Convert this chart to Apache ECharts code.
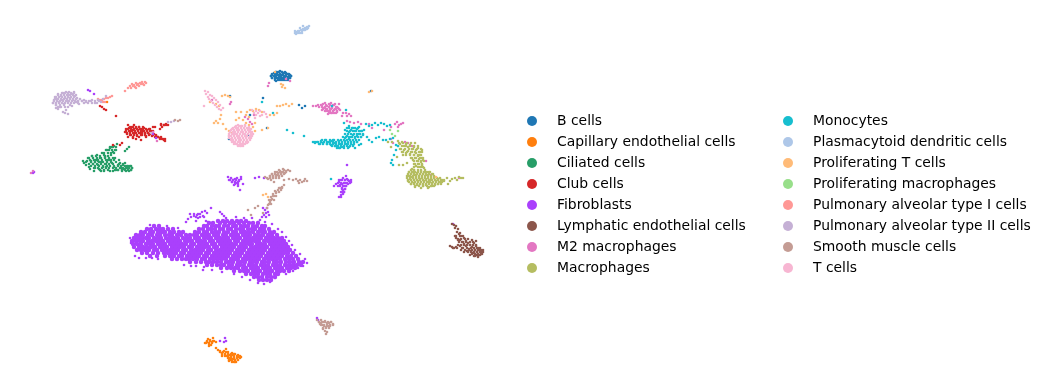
<!DOCTYPE html>
<html><head><meta charset="utf-8">
<style>html,body{margin:0;padding:0;background:#fff}#c{width:1046px;height:389px}</style>
<script src="https://cdn.jsdelivr.net/npm/echarts@6/dist/echarts.min.js"></script>
</head><body><div id="c"></div>
<script>
const categories=["B cells","Capillary endothelial cells","Ciliated cells","Club cells","Fibroblasts","Lymphatic endothelial cells","M2 macrophages","Macrophages","Monocytes","Plasmacytoid dendritic cells","Proliferating T cells","Proliferating macrophages","Pulmonary alveolar type I cells","Pulmonary alveolar type II cells","Smooth muscle cells","T cells"];
const colors=["#1f77b4","#ff7f0e","#279e68","#d62728","#aa40fc","#8c564b","#e377c2","#b5bd61","#17becf","#aec7e8","#ffbb78","#98df8a","#ff9896","#c5b0d5","#c49c94","#f7b6d2"];

const bCells=[[272,75],[274,73],[276,72],[278,72],[280,71],[282,72],[284,73],[286,73],[288,74],[290,75],[272,78],[274,76],[276,75],[278,75],[280,74],[282,75],[284,76],[286,76],[288,77],[290,78],[275,79],[277,78],[279,78],[281,78],[283,78],[285,79],[287,79],[276,81],[280,80],[284,80],[288,80],[271,76],[291,76],[263,98],[248,135],[299,105],[302,108],[267,128],[250,115],[230,96],[229,139],[305,106],[371,91]];
const bCellsRows=[[72,[276,279,282,285]],[74,[272,275,277,280,283,286,289]],[76,[271,274,276,279,281,284,286,289,291]],[78,[272,275,278,280,283,285,288,290]],[80,[275,278,282,286]]];
const capillary=[[205,343],[207,342],[209,344],[211,345],[208,339],[210,340],[212,342],[214,341],[216,342],[213,338],[216,348],[218,350],[220,351],[222,353],[224,351],[226,349],[228,352],[225,355],[227,356],[229,358],[231,357],[233,355],[235,354],[229,361],[231,360],[233,359],[235,360],[237,358],[239,357],[241,357],[238,355],[234,362],[236,362],[230,355],[232,353],[222,356],[209,346],[107,102]];
const capillaryRows=[[341,[207,210,213]],[343,[206,209,212]],[352,[220,223,226]],[354,[222,225,228,231,234]],[356,[225,228,231,234,237,240]],[358,[228,231,234,237,240]],[360,[229,232,235,238]],[362,[232,235]]];
const ciliated=[[84,163],[86,165],[88,158],[89,167],[91,161],[92,156],[93,164],[95,168],[96,160],[97,155],[98,165],[99,169],[100,158],[101,162],[102,153],[103,167],[104,171],[105,157],[106,164],[107,150],[108,160],[109,168],[110,148],[111,155],[112,147],[113,152],[114,146],[115,158],[116,150],[117,144],[112,163],[114,167],[116,170],[118,165],[120,163],[121,168],[122,171],[123,165],[124,169],[125,163],[126,171],[127,166],[128,168],[129,171],[130,166],[131,170],[132,168],[118,170],[113,171],[110,171],[106,167],[101,171],[94,171],[90,169],[125,151],[127,149],[129,147],[87,161],[83,161],[104,155],[98,161],[108,156],[119,160],[111,160]];
const ciliatedRows=[[147,[110,113,116]],[150,[106,109,112,115]],[153,[104,108,111,114]],[156,[92,96,100,105]],[158,[89,93,97,101,105,109,113]],[160,[90,94,98,102,106,110,114]],[162,[86,91,95,99,103,107,111,116]],[164,[89,93,97,101,105,109,113,119,123]],[166,[91,95,99,103,107,110,114,118,121,125,128,131]],[168,[94,98,102,106,113,116,120,123,126,129,132]],[170,[100,104,108,115,118,122,125,128,131]]];
const club=[[125,132],[126,129],[127,134],[128,125],[129,128],[130,131],[131,135],[132,127],[133,130],[134,125],[135,133],[136,128],[137,136],[138,130],[139,127],[140,133],[141,129],[142,135],[143,131],[144,128],[145,133],[146,136],[147,130],[148,133],[149,129],[150,134],[151,131],[152,136],[154,134],[156,136],[158,137],[160,138],[162,139],[164,140],[165,141],[160,129],[162,127],[164,125],[166,124],[168,125],[161,124],[153,127],[155,127],[133,138],[136,139],[141,140],[128,137],[100,106],[102,107],[104,109],[106,110],[116,116],[120,145],[122,143],[113,145]];
const clubRows=[[125,[161,164,166]],[127,[130,133,136,139,143]],[129,[128,131,134,137,140,143,146,150]],[131,[126,129,132,135,138,141,144,147,150,153]],[133,[127,130,133,136,139,142,145,148,151]],[135,[130,134,137,141,145,149,153,156]],[137,[133,139,146,155,158,161]],[139,[160,163,165]]];
const fibroblastRows=[
[221,[218,223,227,232,237,241,246]],
[223,[209,213,220,225,230,234,239,244,249,253,258]],
[226,[154,159,204,207,212,216,219,224,228,233,236,241,245,248,253,257,262,265]],
[229,[147,151,156,160,163,168,173,199,203,208,211,215,220,223,228,231,236,240,243,248,252,255,260,264,269]],
[232,[141,145,150,153,158,162,165,170,174,179,183,195,199,204,207,212,216,219,224,228,233,236,241,245,249,253,258,262,265,270,274]],
[235,[136,140,143,148,152,157,160,165,169,172,177,181,186,190,194,197,202,206,209,214,218,223,226,231,235,238,243,247,250,255,259,263,268,272,277]],
[238,[134,138,142,146,149,154,158,161,166,170,174,178,183,187,190,195,199,204,208,211,216,220,224,228,233,237,240,245,249,253,257,261,266,270,274,278,282]],
[241,[132,136,140,143,148,152,156,160,163,168,172,176,180,185,188,192,197,201,205,210,213,218,222,226,230,235,238,243,247,251,255,259,264,268,272,276,280,284]],
[244,[133,137,141,146,150,153,158,162,165,170,174,178,182,186,191,194,199,203,207,212,215,220,224,228,232,236,241,245,249,252,257,261,265,270,274,278,282,286]],
[247,[134,139,143,147,151,155,160,164,167,172,176,180,184,189,192,197,201,205,209,214,217,222,226,230,234,239,243,246,251,255,259,263,267,272,276,280,284,288]],
[250,[137,141,145,149,154,157,162,166,170,174,178,183,186,191,195,199,203,208,211,216,220,224,228,232,237,241,244,249,253,257,261,265,270,274,278,282,286,290]],
[253,[142,147,153,158,164,168,172,176,181,184,189,193,197,201,206,209,214,218,222,226,230,235,239,242,247,251,255,259,263,268,272,276,280,284,288,293]],
[256,[150,157,165,170,174,179,182,187,191,195,199,204,207,212,216,220,224,228,233,237,240,245,249,253,257,261,266,270,274,278,282,287,291,296]],
[259,[172,177,182,186,189,193,197,202,205,210,214,218,222,226,231,235,238,243,247,251,255,259,264,268,272,276,280,285,289,293,298]],
[262,[190,196,201,206,209,213,217,221,226,229,233,238,241,245,250,253,257,262,265,269,274,277,281,286,290,294,299,303]],
[265,[207,212,217,221,224,229,232,237,240,244,249,252,256,261,264,268,273,276,280,285,289,293,297,301]],
[268,[221,227,231,235,238,243,246,251,254,258,263,266,270,275,278,282,287,291,295]],
[271,[234,240,244,248,253,256,260,265,268,272,277,280,284,289]],
[274,[246,251,255,258,263,267,270,275,278]],
[277,[254,258,262,267,271,275]],
[280,[259,263,267,271]]
];
const fibroblastsScattered=[[130,238],[131,243],[135,256],[139,258],[146,258],[152,258],[158,259],[150,225],[167,226],[178,228],[184,265],[191,266],[196,266],[204,267],[212,270],[222,272],[203,270],[234,274],[242,277],[250,280],[258,283],[264,284],[270,282],[275,278],[286,274],[293,271],[298,268],[303,266],[307,263],[305,259],[300,254],[295,250],[292,245],[289,241],[286,237],[282,232],[278,229],[272,224],[265,222],[252,218],[244,218],[236,217],[226,218],
[188,219],[191,217],[194,216],[197,215],[200,214],[202,212],[205,211],[207,213],[198,218],[203,216],[206,221],[208,222],[196,221],[186,222],[220,212],[222,214],[224,216],[211,208],[228,177],[231,178],[233,180],[235,179],[237,178],[239,181],[241,179],[243,184],[236,183],[238,186],[232,182],[234,185],[229,180],[241,177],[240,190],[255,178],[259,177],[264,178],
[336,184],[339,182],[341,180],[343,178],[345,180],[347,179],[349,181],[351,182],[338,186],[340,185],[342,184],[344,183],[346,183],[348,184],[342,188],[344,186],[346,186],[343,190],[345,189],[342,192],[344,192],[341,195],[343,194],[339,197],[341,197],[347,165],[334,186],[346,176],
[263,208],[265,210],[267,208],[266,213],[264,215],[262,217],[268,212],[269,215],[266,217],[260,220],[258,222],[88,90],[90,91],[94,94],[33,173],[34,172],[225,338],[226,341],[224,342],[220,341],[153,134],[156,138],[317,318],[318,320],[453,224]];
const fibroblastsSmallRows=[[180,[230,233,236,239,339,342,345,348,351]],[182,[232,235,238]],[183,[338,341,344,347,350]],[184,[235,238]],[186,[340,343,346]],[189,[342,345]],[192,[341,344]],[214,[190,194,198]],[217,[196,200,204]]];
const lymphatic=[[452,224],[454,225],[456,226],[455,228],[458,229],[457,232],[459,234],[461,236],[456,238],[458,240],[455,236],[460,240],[462,242],[464,238],[466,241],[452,247],[450,246],[454,248],[456,247],[458,245],[460,246],[462,248],[464,244],[466,246],[468,243],[470,245],[472,247],[474,243],[476,246],[478,248],[469,249],[471,251],[473,253],[475,250],[477,252],[479,250],[481,252],[483,250],[474,256],[476,255],[478,257],[480,255],[482,254],[470,255],[467,251],[464,252],[461,250],[472,240],[476,241],[460,233]];
const lymphaticRows=[[236,[456,460,463]],[239,[458,461,465,468]],[242,[459,463,466,470,473]],[245,[461,464,467,470,473,476]],[248,[453,457,463,467,471,474,477,480]],[250,[465,469,472,475,478,481]],[252,[468,471,474,477,480,483]],[254,[472,475,478,481]],[256,[475,478]]];
const m2=[[313,106],[316,106],[319,107],[321,105],[323,104],[325,103],[327,106],[329,104],[331,103],[333,105],[335,104],[337,107],[324,108],[326,109],[328,111],[330,109],[332,108],[334,110],[336,109],[338,108],[340,110],[322,110],[325,111],[328,114],[331,113],[334,113],[337,112],[339,104],[343,113],[346,113],[349,114],[351,116],[347,116],[342,116],[347,121],[350,122],[354,123],[358,122],[361,124],[395,124],[397,122],[399,125],[401,124],[403,123],[398,127],[391,127],[384,130],[372,128],[369,124],[245,117],[248,119],[250,122],[252,124],[268,86],[269,83],[286,79],[290,81],[212,100],[231,102],[230,104],[391,139],[393,143],[405,142],[408,143],[412,146],[426,161],[431,175],[459,178],[33,171],[31,173],[157,141],[153,132],[254,115]];
const m2Rows=[[105,[318,322,326,330,334]],[107,[322,325,329,332,336]],[109,[323,327,331,335,339]],[111,[326,330,333,337]],[113,[329,332,336]]];
const macrophages=[[398,141],[400,144],[402,142],[404,146],[406,144],[408,147],[410,145],[412,149],[414,147],[416,150],[418,148],[420,152],[422,150],[400,149],[402,152],[404,150],[406,153],[408,151],[410,154],[412,152],[414,155],[416,153],[418,156],[420,155],[422,158],[411,158],[413,160],[415,158],[417,161],[419,159],[421,162],[423,160],[414,164],[416,166],[418,164],[420,167],[422,165],[424,168],[412,169],[414,170],[409,172],[411,174],[413,172],[415,175],[417,173],[419,176],[421,171],[423,174],[425,172],[427,175],[429,172],[431,176],[433,174],[408,176],[410,179],[412,177],[414,180],[416,178],[418,181],[420,179],[422,178],[424,181],[426,179],[428,182],[430,180],[432,183],[434,178],[436,181],[438,179],[440,182],[442,180],[408,181],[411,184],[414,183],[417,185],[420,184],[423,186],[426,185],[429,187],[432,186],[435,185],[438,184],[441,184],[444,181],[415,187],[421,188],[428,188],[450,181],[452,179],[455,178],[457,180],[459,177],[461,178],[463,178],[447,178],[448,184],[403,155],[397,157],[391,147],[388,142],[392,142],[399,165],[403,165],[407,163]];
const macrophagesRows=[[143,[399,403,407,411,415]],[146,[398,402,406,410,414,418]],[149,[401,405,409,413,417,421]],[152,[403,407,411,415,419,422]],[155,[406,410,414,418,421]],[158,[412,416,420,423]],[161,[414,418,421,424]],[164,[415,419,422]],[167,[414,418,421,423]],[170,[411,414,418,421,425]],[172,[409,412,415,418,421,424,427,430]],[174,[408,411,414,417,420,423,426,429,432]],[176,[407,410,413,416,419,422,425,428,431,434]],[178,[407,410,413,416,419,422,425,428,431,434,437,440]],[180,[408,411,414,417,420,423,426,429,432,435,438,441,444]],[182,[409,412,415,418,421,424,427,430,433,436,439,442]],[184,[411,414,417,420,423,426,429,432,435,438]],[186,[415,419,423,427,431,434]]];
const monocytes=[[313,142],[315,143],[317,142],[319,144],[321,141],[323,143],[325,140],[327,144],[329,142],[331,145],[333,140],[335,143],[337,146],[339,141],[341,144],[343,147],[345,141],[347,144],[349,147],[351,142],[353,145],[355,148],[357,142],[359,145],[361,144],[339,148],[341,147],[335,146],[331,141],[345,138],[347,136],[349,139],[351,137],[353,135],[355,138],[357,136],[359,134],[361,137],[363,135],[349,132],[351,130],[353,128],[355,131],[357,129],[359,127],[361,131],[345,130],[347,128],[349,126],[364,130],[366,124],[369,126],[372,125],[375,123],[378,125],[381,123],[384,124],[387,126],[390,125],[367,137],[369,140],[372,142],[376,138],[379,137],[383,140],[386,140],[390,139],[393,138],[396,145],[398,146],[287,130],[293,133],[304,136],[262,102],[273,113],[344,123],[346,110],[332,106],[396,150],[394,155],[392,160],[391,163],[393,165],[331,179]];
const monocytesRows=[[128,[349,352,355,358]],[131,[347,350,353,356,359,362]],[134,[345,348,351,354,357,360,363]],[137,[343,346,349,352,355,358,361]],[140,[322,326,330,334,338,341,344,347,350,353,356,359]],[142,[315,318,321,324,327,330,333,336,339,342,345,348,351,354,357]],[144,[320,323,327,330,333,336,339,342,345,348,351,354]],[146,[332,335,338,341,344,347,350,353]],[148,[337,340,344,348]]];
const plasmacytoid=[[295,33],[297,32],[299,31],[301,30],[303,29],[305,28],[307,27],[309,26],[296,34],[298,33],[300,33],[302,31],[304,30],[306,29],[308,28],[303,26],[300,28],[298,31],[305,30],[302,33],[307,29],[295,31]];
const prolifT=[[222,96],[225,95],[228,96],[230,97],[210,102],[216,104],[219,106],[236,112],[241,112],[247,112],[250,110],[253,111],[256,109],[259,110],[262,112],[246,115],[249,117],[214,123],[216,121],[218,123],[220,119],[221,115],[223,124],[226,129],[229,131],[232,133],[236,120],[239,118],[243,120],[246,123],[249,125],[253,127],[255,123],[277,106],[280,106],[283,105],[286,104],[289,106],[292,104],[282,87],[283,85],[285,88],[281,84],[277,113],[274,115],[270,115],[268,128],[369,92],[372,91],[275,72],[262,130],[255,131],[436,177],[263,195],[266,194],[268,197]];
const prolifMacro=[[390,130],[395,136],[392,134],[398,131]];
const pulmI=[[128,88],[131,88],[133,86],[135,87],[137,85],[139,86],[141,84],[143,84],[145,82],[146,83],[134,85],[138,84],[142,82],[136,88],[125,91],[100,100],[102,100],[104,99],[106,98],[108,98],[110,97],[112,96],[105,102],[103,102],[98,99],[130,86],[132,84],[136,83],[140,83],[144,85]];
const pulmII=[[53,103],[54,100],[55,97],[56,105],[57,99],[58,94],[59,102],[60,107],[61,96],[62,100],[63,93],[64,104],[65,98],[66,92],[67,101],[68,95],[69,92],[70,98],[71,103],[72,94],[73,100],[74,92],[75,96],[76,102],[77,98],[78,101],[80,99],[82,101],[84,100],[86,102],[89,101],[92,100],[95,103],[98,100],[101,102],[103,99],[63,112],[65,113],[66,110],[68,114],[58,109],[56,108],[79,104],[72,106],[68,107],[151,133],[174,121],[171,122],[168,122],[106,96]];
const pulmIIRows=[[93,[62,65,68,71,74]],[95,[58,61,64,67,70,73,76]],[97,[56,59,62,65,68,71,74]],[99,[55,58,61,64,67,70,73,76]],[101,[54,57,60,63,66,69,72,75,78,82,86,91,95,99]],[103,[53,56,59,62,65,68,74,78,84,88,92,97]],[105,[56,60,64,70]],[107,[58,61,65]]];
const smoothMuscle=[[268,179],[270,176],[272,174],[273,178],[275,172],[276,176],[278,173],[280,171],[282,172],[284,170],[286,171],[288,170],[290,171],[271,180],[274,182],[277,175],[279,170],[281,174],[283,169],[285,173],[293,180],[296,179],[298,181],[300,180],[302,182],[304,181],[307,181],[305,179],[299,183],[289,179],[284,180],[279,178],[265,177],[282,187],[280,188],[278,190],[276,193],[274,196],[272,199],[270,202],[268,205],[267,208],[275,191],[273,194],[271,197],[269,200],[281,190],[284,185],[263,213],[255,208],[258,206],[248,210],[251,215],[317,320],[319,322],[321,320],[323,322],[325,321],[327,323],[329,323],[331,322],[333,324],[320,324],[322,325],[324,326],[326,327],[328,326],[330,326],[323,329],[325,331],[327,332],[326,334],[321,323],[175,120],[180,120],[178,121]];
const smoothMuscleRows=[[172,[277,280,283,286]],[174,[272,275,278,281,284]],[176,[270,273,276,279,282]],[178,[267,270,273,276]],[188,[279,282]],[192,[276,279]],[196,[273,276]],[200,[271,274]],[204,[269,271]],[322,[319,322,325,328,331]],[325,[321,324,327,330,333]],[328,[323,326,329]]];
const tCells=[[229,136],[230,132],[231,139],[232,129],[233,134],[234,142],[235,127],[238,125],[238,145],[241,126],[243,144],[245,125],[247,143],[249,127],[251,129],[252,132],[240,146],[236,144],[206,94],[208,92],[210,95],[212,96],[214,98],[216,100],[209,99],[211,101],[213,103],[215,105],[217,107],[219,109],[221,110],[208,97],[205,91],[218,102],[220,105],[223,108],[252,110],[254,113],[256,115],[258,113],[260,111],[262,115],[264,112],[266,114],[255,118],[267,117],[260,116],[256,111],[204,106]];
const tCellsRows=[[126,[236,239,242,245]],[128,[233,236,238,241,244,247,249]],[130,[231,234,237,239,242,245,248,250]],[132,[230,233,235,238,241,243,246,249,251]],[134,[229,232,235,237,240,243,245,248,251,253]],[136,[229,231,234,237,239,242,245,247,250,252]],[138,[229,232,235,238,240,243,246,249,251]],[140,[231,233,236,239,241,244,247,250]],[142,[232,235,238,240,243,246,248]],[144,[234,237,240,242,245]],[146,[238,241,243]]];

const expand=rows=>{const a=[];(rows||[]).forEach(r=>r[1].forEach(x=>a.push([x,r[0]])));return a;};
const seriesLists=[[bCells,bCellsRows],[capillary,capillaryRows],[ciliated,ciliatedRows],[club,clubRows],[fibroblastsScattered,fibroblastsSmallRows],[lymphatic,lymphaticRows],[m2,m2Rows],[macrophages,macrophagesRows],[monocytes,monocytesRows],[plasmacytoid],[prolifT],[prolifMacro],[pulmI],[pulmII,pulmIIRows],[smoothMuscle,smoothMuscleRows],[tCells,tCellsRows]];
const series=categories.map((n,i)=>({name:n,type:"scatter",data:seriesLists[i][0].concat(expand(seriesLists[i][1])),symbol:"circle",symbolSize:2.6,itemStyle:{color:colors[i],opacity:1},silent:true,animation:false}));
series.splice(4,0,{name:"Fibroblasts",type:"scatter",data:expand(fibroblastRows),symbol:"circle",symbolSize:4.5,itemStyle:{color:colors[4],opacity:1},silent:true,animation:false});
const legendBase={orient:"vertical",itemGap:7,itemWidth:40,itemHeight:10,icon:"circle",selectedMode:false,textStyle:{fontFamily:"DejaVu Sans",fontSize:13.9,color:"#000"}};
const chart=echarts.init(document.getElementById("c"),null,{renderer:"canvas"});
chart.setOption({animation:false,backgroundColor:"#fff",
 grid:{left:20,top:20,width:480,height:350},
 xAxis:{type:"value",min:20,max:500,show:false},
 yAxis:{type:"value",min:20,max:370,inverse:true,show:false},
 legend:[Object.assign({},legendBase,{left:522,top:109,data:categories.slice(0,8)}),
         Object.assign({},legendBase,{left:778,top:109,data:categories.slice(8)})],
 series:series});
</script></body></html>
